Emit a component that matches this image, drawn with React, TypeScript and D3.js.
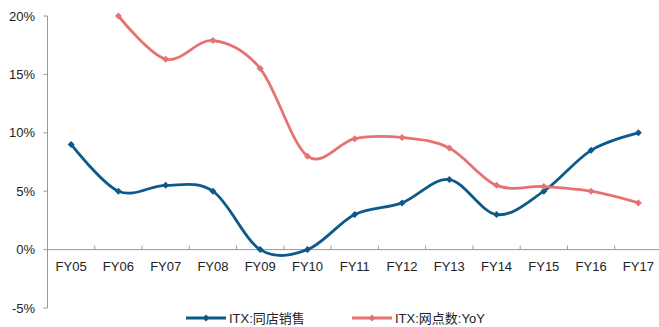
import React from "react";
import * as d3 from "d3";

const categories = ["FY05","FY06","FY07","FY08","FY09","FY10","FY11","FY12","FY13","FY14","FY15","FY16","FY17"];
const sameStoreSales: (number | null)[] = [9, 5, 5.5, 5, 0, 0, 3, 4, 6, 3, 5, 8.5, 10];
const storeCountYoY: (number | null)[] = [null, 20, 16.3, 17.9, 15.5, 8.0, 9.5, 9.6, 8.7, 5.5, 5.4, 5.0, 4.0];
const yTicks = [-5, 0, 5, 10, 15, 20];
const seriesNames = ["ITX:同店销售", "ITX:网点数:YoY"];
const colors = ["#0d5a8a", "#e57373"];

const W = 659, H = 327;
const left = 47.5, right = 662, top = 16, bottom = 308;

export default function App() {
  const x = d3.scaleBand<string>().domain(categories).range([left, right]);
  const y = d3.scaleLinear().domain([-5, 20]).range([bottom, top]);
  const line = d3.line<number | null>()
    .defined(d => d !== null)
    .x((_, i) => (x(categories[i]) as number) + x.bandwidth() / 2)
    .y(d => y(d as number))
    .curve(d3.curveCardinal.tension(0));
  const font = "'Liberation Sans', Arial, 'Noto Sans CJK SC', sans-serif";
  const series = [sameStoreSales, storeCountYoY];
  const diamond = (cx: number, cy: number, r: number) =>
    `M${cx},${cy - r}L${cx + r},${cy}L${cx},${cy + r}L${cx - r},${cy}Z`;
  const legendX = [186, 352];
  return (
    <svg width={W} height={H} style={{ position: "absolute", left: 0, top: 0 }} fontFamily={font}>
      {/* y axis */}
      <line x1={left} x2={left} y1={top} y2={bottom} stroke="#999" />
      {yTicks.map(t => (
        <g key={t}>
          <line x1={left - 4} x2={left} y1={y(t)} y2={y(t)} stroke="#999" />
          <text x={35} y={y(t)} dy="0.35em" textAnchor="end" fontSize={13} fill="#222">{t}%</text>
        </g>
      ))}
      {/* x axis at 0 */}
      <line x1={left} x2={W} y1={y(0)} y2={y(0)} stroke="#999" />
      {categories.map((c, i) => (
        <g key={c}>
          {i > 0 && <line x1={x(c) as number} x2={x(c) as number} y1={y(0) - 4} y2={y(0)} stroke="#999" />}
          <text x={(x(c) as number) + x.bandwidth() / 2} y={y(0) + 21} textAnchor="middle" fontSize={13} fill="#222">{c}</text>
        </g>
      ))}
      {series.map((s, si) => (
        <g key={si}>
          <path d={line(s) || ""} fill="none" stroke={colors[si]} strokeWidth={2.8} />
          {s.map((v, i) => v === null ? null : (
            <path key={i} d={diamond((x(categories[i]) as number) + x.bandwidth() / 2, y(v), 3.5)} fill={colors[si]} />
          ))}
        </g>
      ))}
      {/* legend */}
      {seriesNames.map((n, i) => (
        <g key={n}>
          <line x1={legendX[i]} x2={legendX[i] + 40} y1={318} y2={318} stroke={colors[i]} strokeWidth={2.8} />
          <path d={diamond(legendX[i] + 20, 318, 3.5)} fill={colors[i]} />
          <text x={legendX[i] + 43} y={318} dy="0.35em" fontSize={13} fill="#222">{n}</text>
        </g>
      ))}
    </svg>
  );
}
